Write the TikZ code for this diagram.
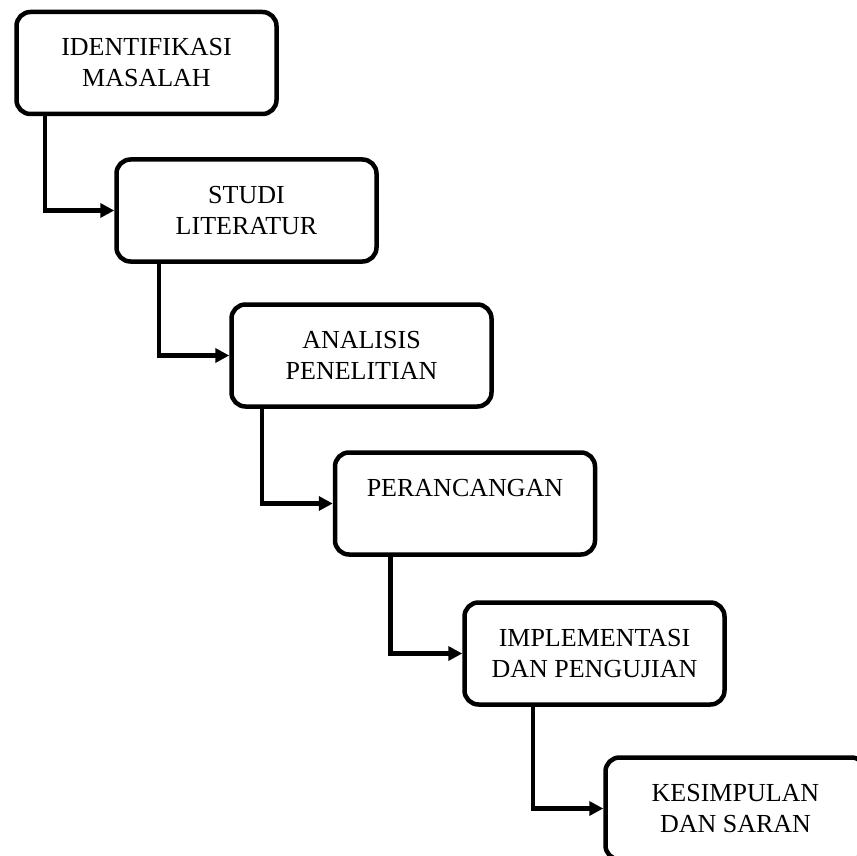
\documentclass[tikz,border=0pt]{standalone}
\usepackage{fontspec}
\setmainfont{Liberation Serif}
\usetikzlibrary{arrows.meta, positioning}
\tikzset {
    >={Triangle[length=14pt, width=14pt]},
    every node/.style={font=\fontsize{26}{31}\selectfont},
    stage/.style={draw, line width=4.5pt, rounded corners=14pt,
        minimum width=260pt, minimum height=102pt, inner sep=0pt, align=center},
    flow/.style={->, line width=4.5pt}
}
\begin{document}
\begin{tikzpicture}[x=1pt, y=-1pt]
    \useasboundingbox (0,0) rectangle (857,856);

    \node[stage] (identifikasi) at (146.5,63) {IDENTIFIKASI\\MASALAH};
    \node[stage] (studi) at (246.5,210.5) {STUDI\\LITERATUR};
    \node[stage] (analisis) at (361.5,355.5) {ANALISIS\\PENELITIAN};
    \node[stage] (perancangan) at (465,503.5) {PERANCANGAN\\\mbox{}};
    \node[stage] (implementasi) at (594.5,653.5) {IMPLEMENTASI\\DAN PENGUJIAN};
    \node[stage] (kesimpulan) at (735.5,808.5) {KESIMPULAN\\DAN SARAN};

    \draw[flow] ([xshift=30.5pt]identifikasi.south west) |- (studi.west);
    \draw[flow] ([xshift=44.5pt]studi.south west) |- (analisis.west);
    \draw[flow] ([xshift=32.5pt]analisis.south west) |- (perancangan.west);
    \draw[flow] ([xshift=57.5pt]perancangan.south west) |- (implementasi.west);
    \draw[flow] ([xshift=70.5pt]implementasi.south west) |- (kesimpulan.west);
\end{tikzpicture}
\end{document}
